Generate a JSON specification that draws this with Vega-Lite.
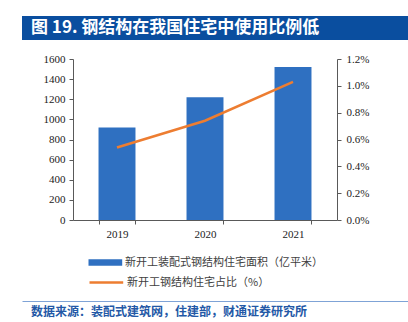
{
  "$schema": "https://vega.github.io/schema/vega-lite/v6.json",
  "padding": {"left": 22, "top": 16, "right": 0, "bottom": 0},
  "bounds": "full",
  "spacing": 13,
  "config": {
    "view": {"stroke": null},
    "axis": {"labelFont": "Liberation Serif", "labelFontSize": 11, "labelColor": "#222222", "domainColor": "#595959", "tickColor": "#595959", "tickSize": 4, "grid": false}
  },
  "vconcat": [
    {
      "width": 386,
      "height": 24,
      "data": {"values": [{"t": "图 19. 钢结构在我国住宅中使用比例低", "k": 0, "k2": 1}]},
      "encoding": {
        "x": {"field": "k", "type": "quantitative", "scale": {"domain": [0, 1]}, "axis": null}
      },
      "layer": [
        {"mark": {"type": "rect", "color": "#0A4E9F"}, "encoding": {"x2": {"field": "k2"}}},
        {"mark": {"type": "text", "align": "left", "baseline": "middle", "dx": 9, "color": "white", "font": "Noto Sans CJK SC", "fontWeight": "bold", "fontSize": 17},
         "encoding": {"text": {"field": "t"}}}
      ]
    },
    {
      "spacing": 0,
      "hconcat": [
        {
          "width": 21,
          "height": 229,
          "data": {"values": []},
          "mark": "text"
        },
        {
          "width": 264,
          "height": 161,
          "data": {"values": [
            {"year": "2019", "area": 920, "ratio": 0.0054},
            {"year": "2020", "area": 1220, "ratio": 0.0074},
            {"year": "2021", "area": 1520, "ratio": 0.0103}
          ]},
          "encoding": {
            "x": {"field": "year", "type": "nominal", "scale": {"paddingInner": 0.58, "paddingOuter": 0.29},
                  "axis": {"title": null, "labelAngle": 0, "tickBand": "extent", "labelPadding": 4, "labelFont": "Liberation Serif", "labelFontSize": 11}}
          },
          "layer": [
            {
              "mark": {"type": "bar"},
              "encoding": {
                "y": {"field": "area", "type": "quantitative", "scale": {"domain": [0, 1600], "nice": false},
                      "axis": {"title": null, "format": "d", "values": [0, 200, 400, 600, 800, 1000, 1200, 1400, 1600], "labelPadding": 4, "labelFont": "Liberation Serif", "labelFontSize": 11}},
                "fill": {"datum": "新开工装配式钢结构住宅面积（亿平米）", "type": "nominal",
                          "scale": {"range": ["#2F70C1"]},
                          "legend": {
                            "title": null, "orient": "none", "legendX": 66, "legendY": 241,
                            "symbolType": "M-1,-0.67H5.74V0.67H-1Z", "symbolSize": 100, "symbolStrokeWidth": 0, "symbolOpacity": 1,
                            "labelOffset": 26, "labelLimit": 320,
                            "labelFont": "Noto Sans CJK SC", "labelFontSize": 11, "labelColor": "#404040"
                          }}
              }
            },
            {
              "mark": {"type": "line", "strokeWidth": 2.5},
              "encoding": {
                "y": {"field": "ratio", "type": "quantitative", "scale": {"domain": [0, 0.012], "nice": false},
                      "axis": {"orient": "right", "title": null, "format": ".1%", "values": [0, 0.002, 0.004, 0.006, 0.008, 0.01, 0.012], "labelPadding": 5, "labelFont": "Liberation Serif", "labelFontSize": 11}},
                "stroke": {"datum": "新开工钢结构住宅占比（%）", "type": "nominal",
                          "scale": {"range": ["#ED7D31"]},
                          "legend": {
                            "title": null, "orient": "none", "legendX": 66, "legendY": 260,
                            "symbolType": "M-1,0H5.74", "symbolSize": 100, "symbolStrokeWidth": 2.5, "symbolOpacity": 1,
                            "labelOffset": 26, "labelLimit": 320,
                            "labelFont": "Noto Sans CJK SC", "labelFontSize": 11, "labelColor": "#404040"
                          }}
              }
            }
          ],
          "resolve": {"scale": {"y": "independent"}}
        }
      ]
    },
    {
      "width": 386,
      "height": 21,
      "data": {"values": [{"t": "数据来源：装配式建筑网，住建部，财通证券研究所", "k": 0}]},
      "mark": {"type": "text", "align": "left", "baseline": "middle", "dx": 9, "color": "#2358A6", "font": "Noto Sans CJK SC", "fontWeight": "bold", "fontSize": 12},
      "encoding": {
        "x": {"field": "k", "type": "quantitative", "scale": {"domain": [0, 1]},
              "axis": {"orient": "top", "labels": false, "ticks": false, "grid": false, "title": null, "domainColor": "#7FA3D6", "domainWidth": 1}},
        "text": {"field": "t"}
      }
    }
  ]
}
